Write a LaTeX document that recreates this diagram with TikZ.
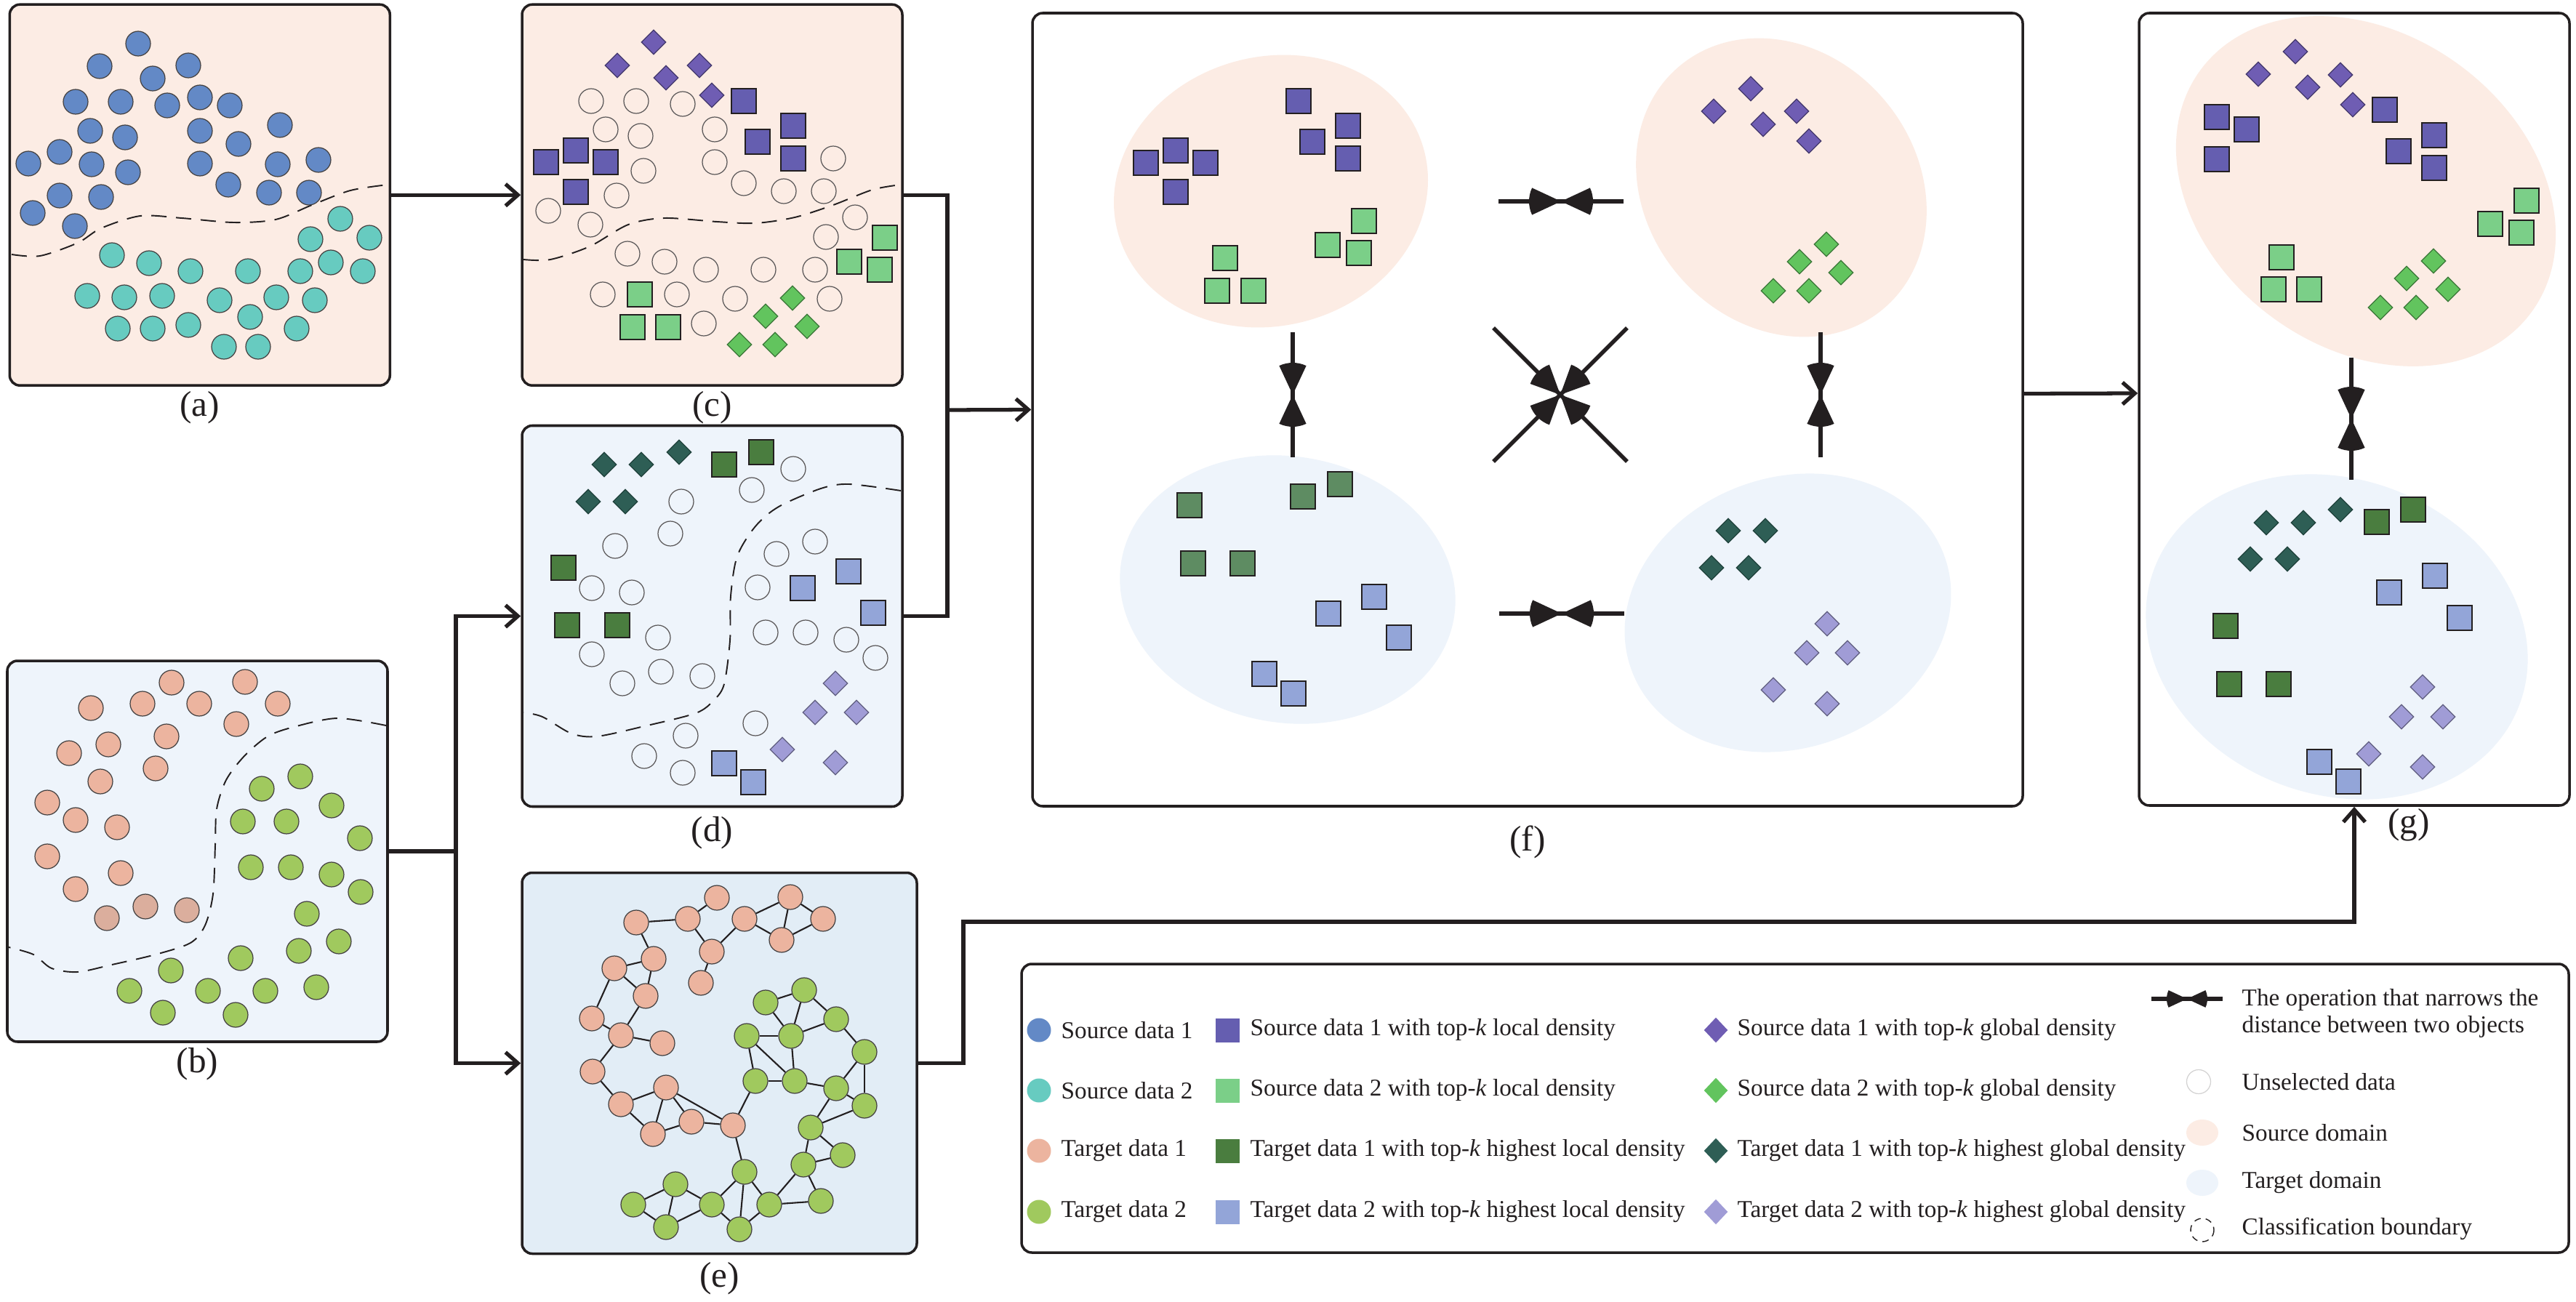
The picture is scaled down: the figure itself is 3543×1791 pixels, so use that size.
\documentclass[tikz,border=0pt]{standalone}
\usepackage{fontspec}
\setmainfont{Liberation Serif}
\usetikzlibrary{arrows.meta,shapes.geometric,positioning}

\definecolor{ink}{RGB}{35,31,32}
\definecolor{srcbg}{RGB}{252,236,228}
\definecolor{tgtbg}{RGB}{238,244,251}
\definecolor{graphbg}{RGB}{226,237,246}
\definecolor{srcA}{RGB}{99,137,198}
\definecolor{srcB}{RGB}{103,203,192}
\definecolor{tgtA}{RGB}{236,180,159}
\definecolor{tgtAd}{RGB}{219,174,157}
\definecolor{tgtB}{RGB}{160,201,94}
\definecolor{locA}{RGB}{101,94,176}
\definecolor{locB}{RGB}{123,207,136}
\definecolor{gloA}{RGB}{111,93,179}
\definecolor{gloB}{RGB}{98,196,94}
\definecolor{tlocA}{RGB}{74,125,63}
\definecolor{tlocAf}{RGB}{94,140,98}
\definecolor{tlocB}{RGB}{147,165,216}
\definecolor{tgloA}{RGB}{46,94,85}
\definecolor{tgloB}{RGB}{160,156,214}

\tikzset{
  panel/.style={draw=ink, line width=1pt, rounded corners=1.4mm, inner sep=0pt, minimum width=52.3mm, minimum height=52.4mm},
  dot/.style={circle, draw=ink!85, line width=0.35pt, minimum size=3.4mm, inner sep=0pt},
  unsel/.style={dot, draw=ink!75},
  sq/.style={rectangle, draw=ink, line width=0.45pt, minimum size=3.4mm, inner sep=0pt},
  gem/.style={diamond, line width=0.35pt, minimum width=3.4mm, minimum height=3.4mm, inner sep=0pt},
  sA/.style={dot, fill=srcA}, sB/.style={dot, fill=srcB},
  tA/.style={dot, fill=tgtA}, tAd/.style={dot, fill=tgtAd}, tB/.style={dot, fill=tgtB},
  lA/.style={sq, fill=locA}, lB/.style={sq, fill=locB},
  tlA/.style={sq, fill=tlocA}, tlB/.style={sq, fill=tlocB},
  gA/.style={gem, fill=gloA, draw=gloA!60!black}, gB/.style={gem, fill=gloB, draw=gloB!60!black},
  tgA/.style={gem, fill=tgloA, draw=tgloA!70!black}, tgB/.style={gem, fill=tgloB, draw=tgloB!60!black},
  bnd/.style={draw=ink, line width=0.55pt, dash pattern=on 2.1mm off 1.3mm},
  conn/.style={draw=ink, line width=1.5pt},
  arr/.style={conn, -{Straight Barb[length=1.7mm, width=3mm]}},
  narline/.style={draw=ink, line width=1.6pt},
  link/.style={draw=ink, line width=0.6pt},
  lab/.style={font=\fontsize{14}{16}\selectfont, inner sep=0pt, text=ink},
  leg/.style={font=\fontsize{9.45}{10.8}\selectfont, inner sep=0pt, anchor=west, text=ink, align=left},
}

% line with a fan-shaped head pointing at the centre
\newcommand{\narrowop}[4]{%
  \draw[narline] (#1) -- ++(#2:#3);
  \fill[ink] (#1) -- ++(#2-25:#4) arc[start angle=#2-25, end angle=#2+25, radius=#4] -- cycle;}

\begin{document}
\begin{tikzpicture}[x=0.1mm, y=-0.1mm]
\useasboundingbox (0,0) rectangle (3543,1791);

% panels
\node[panel, fill=srcbg] (pa) at (274.8,268.2) {};
\node[panel, fill=srcbg] (pc) at (979.5,268.2) {};
\node[panel, fill=tgtbg] (pb) at (271.5,1171) {};
\node[panel, fill=tgtbg] (pd) at (979.5,847.5) {};
\node[panel, fill=graphbg, minimum width=54.3mm] (pe) at (989.5,1462.5) {};
\node[panel, fill=white, minimum width=136.2mm, minimum height=109.1mm] (pf) at (2101,563.5) {};
\node[panel, fill=white, minimum width=59.2mm, minimum height=109mm] (pg) at (3238,563) {};
\node[panel, fill=white, minimum width=212.8mm, minimum height=39.7mm] (pl) at (2469,1524.5) {};

\node[lab, below=0.6mm of pa] (la) {(a)};
\node[lab, below=0.6mm of pb] (lb) {(b)};
\node[lab, below=0.6mm of pc] (lc) {(c)};
\node[lab, below=1.1mm of pd] (ld) {(d)};
\node[lab, below=0.9mm of pe] (le) {(e)};
\node[lab, below=2.4mm of pf] (lf) {(f)};
\node[lab, anchor=north] (lg) at (3313,1112) {(g)};

% (a) source data
\draw[bnd] plot[smooth] coordinates {(16,350) (55,352) (107,334) (139,314) (193,297) (250,300) (321,306) (379,302) (429,282) (482,262) (534,254)};
\foreach \x/\y [count=\i] in {190/60,137/91,259/90,210/108,104/140,166/140,230/145,275/134,316/145,124/180,172/189,275/180,328/198,385/172,82/209,39/225,126/226,176/237,275/225,382/226,438/220,314/254,82/269,139/271,370/265,425/265,45/293,103/311}
  \node[sA] (aS\i) at (\x,\y) {};
\foreach \x/\y [count=\i] in {468/301,427/329,508/327,154/351,205/362,262/373,341/373,413/373,455/361,499/373,120/407,171/409,223/407,302/413,380/409,433/413,344/436,162/452,210/452,259/447,408/452,308/477,355/477}
  \node[sB] (aT\i) at (\x,\y) {};

% (c) source data with top-k density
\draw[bnd] plot[smooth] coordinates {(720,357) (757,357) (811,339) (864,309) (914,300) (986,305) (1039,307) (1093,299) (1146,282) (1200,261) (1239,254)};
\foreach \x/\y [count=\i] in {813/139,875/139,939/143,833/178,881/187,983/178,885/235,983/223,1023/252,1078/263,1133/263,1146/218,848/269,754/290,812/309,1176/299,1136/326,863/349,914/360,971/371,1050/371,1121/371,829/405,931/405,1011/411,1141/411,968/445}
  \node[unsel] (cU\i) at (\x,\y) {};
\foreach \x/\y [count=\i] in {899/58,849/90,916/107,962/90,979/131}
  \node[gA] (cG\i) at (\x,\y) {};
\foreach \x/\y [count=\i] in {1023/139,1091/173,1042/195,1091/218,792/207,751/223,833/223,792/264}
  \node[lA] (cL\i) at (\x,\y) {};
\foreach \x/\y [count=\i] in {1217/327,1168/360,1210/371,880/405,870/450,919/450}
  \node[lB] (cM\i) at (\x,\y) {};
\foreach \x/\y [count=\i] in {1090/410,1053/435,1110/449,1017/474,1066/474}
  \node[gB] (cH\i) at (\x,\y) {};

% (b) target data
\draw[bnd] plot[smooth] coordinates {(531,998) (464,988) (404,1000) (368,1013) (336,1040) (311,1073) (298,1113) (296,1163) (293,1230) (282,1273) (262,1297) (214,1313) (154,1327) (107,1337) (71,1332) (46,1313) (12,1303)};
\foreach \x/\y [count=\i] in {236/939,337/938,125/974,196/968,274/968,382/968,325/996,149/1024,229/1013,95/1036,214/1057,138/1075,65/1104,104/1128,161/1138,65/1178,166/1201,104/1223}
  \node[tA] (bS\i) at (\x,\y) {};
\foreach \x/\y [count=\i] in {147/1263,200/1247,257/1252}
  \node[tAd] (bD\i) at (\x,\y) {};
\foreach \x/\y [count=\i] in {413/1068,360/1085,456/1108,334/1130,394/1130,495/1153,345/1193,400/1193,456/1203,496/1227,422/1257,466/1295,411/1308,331/1318,235/1335,178/1363,286/1363,365/1363,435/1358,224/1393,324/1396}
  \node[tB] (bT\i) at (\x,\y) {};

% (d) target data with top-k density
\draw[bnd] plot[smooth] coordinates {(1239,675) (1168,666) (1129,672) (1071,697) (1039,724) (1014,765) (1005,820) (1004,881) (996,941) (982,963) (957,981) (886,999) (821,1013) (786,1009) (746,986) (720,980)};
\foreach \x/\y [count=\i] in {1091/645,1034/674,937/690,922/734,846/751,814/809,869/815,905/877,814/900,909/924,856/940,966/930,1121/745,1068/762,1042/808,1053/870,1108/870,1164/880,1204/905,1039/995,943/1012,886/1040,939/1063}
  \node[unsel] (dU\i) at (\x,\y) {};
\foreach \x/\y [count=\i] in {831/639,882/639,934/622,809/690,860/690}
  \node[tgA] (dG\i) at (\x,\y) {};
\foreach \x/\y [count=\i] in {996/639,1047/622,775/781,780/860,849/860}
  \node[tlA] (dL\i) at (\x,\y) {};
\foreach \x/\y [count=\i] in {1167/786,1104/809,1201/843,996/1050,1036/1076}
  \node[tlB] (dM\i) at (\x,\y) {};
\foreach \x/\y [count=\i] in {1149/940,1121/980,1178/980,1076/1031,1149/1049}
  \node[tgB] (dH\i) at (\x,\y) {};

% (e) graph of target data
\foreach \n/\x/\y in {ea1/875/1269,ea2/946/1264,ea3/986/1235,ea4/1024/1264,ea5/1087/1234,ea6/1132/1264,ea7/1075/1293,ea8/979/1309,ea9/964/1352,ea10/899/1319,ea11/845/1332,ea12/888/1370,ea13/814/1401,ea14/854/1424,ea15/911/1435,ea16/815/1474,ea17/854/1519,ea18/916/1496,ea19/898/1560,ea20/951/1543,ea21/1008/1548}
  \node[tA] (\n) at (\x,\y) {};
\foreach \n/\x/\y in {eb1/1053/1379,eb2/1106/1362,eb3/1150/1402,eb4/1027/1425,eb5/1088/1425,eb6/1189/1447,eb7/1039/1487,eb8/1093/1487,eb9/1150/1497,eb10/1189/1521,eb11/1115/1551,eb12/1159/1589,eb13/1105/1602,eb14/1024/1612,eb15/929/1629,eb16/871/1657,eb17/916/1688,eb18/979/1657,eb19/1017/1691,eb20/1058/1657,eb21/1129/1652}
  \node[tB] (\n) at (\x,\y) {};
\foreach \u/\v in {ea1/ea2,ea2/ea3,ea2/ea8,ea8/ea4,ea4/ea5,ea4/ea7,ea5/ea7,ea5/ea6,ea6/ea7,ea8/ea9,ea1/ea10,ea10/ea11,ea10/ea12,ea11/ea12,ea11/ea13,ea13/ea14,ea12/ea14,ea14/ea15,ea14/ea16,ea16/ea17,ea17/ea18,ea17/ea19,ea18/ea19,ea18/ea20,ea19/ea20,ea18/ea21,ea20/ea21,ea21/eb7,ea21/eb14}
  \draw[link] (\u) -- (\v);
\foreach \u/\v in {eb1/eb2,eb1/eb5,eb2/eb5,eb2/eb3,eb3/eb5,eb3/eb6,eb4/eb5,eb4/eb7,eb4/eb8,eb5/eb8,eb7/eb8,eb8/eb9,eb9/eb6,eb6/eb10,eb9/eb10,eb9/eb11,eb10/eb11,eb11/eb12,eb11/eb13,eb12/eb13,eb13/eb20,eb13/eb21,eb20/eb21,eb14/eb20,eb14/eb19,eb14/eb18,eb18/eb15,eb15/eb16,eb15/eb17,eb16/eb17,eb17/eb18,eb18/eb19,eb19/eb20}
  \draw[link] (\u) -- (\v);

% (f) domains brought together
\fill[srcbg, rotate around={15:(1748,263)}] (1748,263) ellipse [x radius=218, y radius=185];
\fill[srcbg, rotate around={-50:(2450,258)}] (2450,258) ellipse [x radius=218, y radius=186];
\fill[tgtbg, rotate around={-10:(1771,811)}] (1771,811) ellipse [x radius=232, y radius=183];
\fill[tgtbg, rotate around={20:(2459,843)}] (2459,843) ellipse [x radius=229, y radius=186];
\foreach \x/\y [count=\i] in {1576/224,1617/207,1658/224,1617/264,1786/139,1854/173,1805/195,1854/218}
  \node[lA] (fL\i) at (\x,\y) {};
\foreach \x/\y [count=\i] in {1876/304,1826/337,1869/348,1685/355,1674/400,1724/400}
  \node[lB] (fM\i) at (\x,\y) {};
\foreach \x/\y [count=\i] in {2408/122,2357/153,2425/171,2471/153,2488/194}
  \node[gA] (fG\i) at (\x,\y) {};
\foreach \x/\y [count=\i] in {2512/336,2475/360,2532/375,2439/400,2488/400}
  \node[gB] (fH\i) at (\x,\y) {};
\foreach \x/\y [count=\i] in {1636/695,1792/683,1843/666,1641/775,1709/775}
  \node[tlA, fill=tlocAf] (fP\i) at (\x,\y) {};
\foreach \x/\y [count=\i] in {1890/821,1827/844,1924/877,1739/927,1779/954}
  \node[tlB] (fQ\i) at (\x,\y) {};
\foreach \x/\y [count=\i] in {2377/730,2428/730,2354/781,2405/781}
  \node[tgA] (fR\i) at (\x,\y) {};
\foreach \x/\y [count=\i] in {2513/858,2485/898,2541/898,2439/949,2513/968}
  \node[tgB] (fS\i) at (\x,\y) {};

\coordinate (nTop) at (2147,277);
\coordinate (nBot) at (2148,844);
\coordinate (nLeft) at (1778,543);
\coordinate (nRight) at (2504,543);
\coordinate (nMid) at (2146,543);
\foreach \c in {nTop,nBot}{\narrowop{\c}{180}{86}{44}\narrowop{\c}{0}{86}{44}}
\foreach \c in {nLeft,nRight}{\narrowop{\c}{270}{86}{44}\narrowop{\c}{90}{86}{44}}
\foreach \a in {45,135,225,315}{\narrowop{nMid}{\a}{130}{44}}

% (g) result
\fill[srcbg, rotate around={-36:(3254,263)}] (3254,263) ellipse [x radius=282, y radius=216];
\fill[tgtbg, rotate around={-20:(3214,876)}] (3214,876) ellipse [x radius=268, y radius=217];
\foreach \x/\y [count=\i] in {3157/71,3106/102,3174/120,3219/103,3236/144}
  \node[gA] (gG\i) at (\x,\y) {};
\foreach \x/\y [count=\i] in {3049/161,3090/178,3049/219,3280/151,3299/208,3348/186,3348/231}
  \node[lA] (gL\i) at (\x,\y) {};
\foreach \x/\y [count=\i] in {3475/276,3425/308,3468/320,3138/354,3127/398,3176/398}
  \node[lB] (gM\i) at (\x,\y) {};
\foreach \x/\y [count=\i] in {3347/359,3310/383,3367/398,3274/423,3323/423}
  \node[gB] (gH\i) at (\x,\y) {};
\foreach \x/\y [count=\i] in {3219/701,3117/719,3168/719,3095/769,3146/769}
  \node[tgA] (gR\i) at (\x,\y) {};
\foreach \x/\y [count=\i] in {3269/718,3319/701,3061/861,3066/941,3134/941}
  \node[tlA] (gP\i) at (\x,\y) {};
\foreach \x/\y [count=\i] in {3286/815,3349/792,3383/850,3190/1048,3230/1075}
  \node[tlB] (gQ\i) at (\x,\y) {};
\foreach \x/\y [count=\i] in {3332/945,3303/986,3360/986,3258/1037,3332/1055}
  \node[tgB] (gS\i) at (\x,\y) {};
\coordinate (nG) at (3234,576);
\narrowop{nG}{270}{84}{44}\narrowop{nG}{90}{84}{44}

% connectors
\draw[arr] (pa) -- (pc);
\coordinate (jc) at (1303,564);
\draw[conn] (pc.east) -| (jc) |- (pd.east);
\draw[arr] (jc) -- (pf.west);
\coordinate (jb) at (627,1171);
\draw[conn] (pb.east) -- (jb);
\draw[arr] (jb) |- (pd.west);
\draw[arr] (jb) |- (pe.west);
\coordinate (je) at (1325,1268);
\draw[arr] (pe.east) -| (je) -| (pg.south);
\draw[arr] ([yshift=2.2mm]pf.east) -- ([yshift=2.2mm]pg.west);

% legend
\foreach \s/\t/\y [count=\i] in {sA/Source data 1/1417,sB/Source data 2/1500,tA/Target data 1/1583,tB/Target data 2/1667}{
  \node[\s, draw=none, minimum size=3.3mm] (kA\i) at (1429,\y) {};
  \node[leg] (tA\i) at (1459,\y) {\t};}
\foreach \s/\t/\y [count=\i] in {lA/Source data 1 with top-\textit{k} local density/1417,lB/Source data 2 with top-\textit{k} local density/1500,tlA/Target data 1 with top-\textit{k} highest local density/1583,tlB/Target data 2 with top-\textit{k} highest local density/1667}{
  \node[\s, draw=none, minimum size=3.3mm] (kB\i) at (1688,\y) {};
  \node[leg] (tB\i) at (1719,\y) {\t};}
\foreach \s/\t/\y [count=\i] in {gA/Source data 1 with top-\textit{k} global density/1417,gB/Source data 2 with top-\textit{k} global density/1500,tgA/Target data 1 with top-\textit{k} highest global density/1583,tgB/Target data 2 with top-\textit{k} highest global density/1667}{
  \node[\s, draw=none, minimum width=3.3mm, minimum height=3.5mm] (kC\i) at (2360,\y) {};
  \node[leg] (tC\i) at (2389,\y) {\t};}
\coordinate (kOp) at (3008,1374);
\narrowop{kOp}{180}{49}{28}\narrowop{kOp}{0}{49}{28}
\node[leg] (tOp) at (3083,1394) {The operation that narrows the\\distance between two objects};
\node[unsel, fill=white, draw=ink!20, minimum size=3.3mm] (kUn) at (3024,1488) {};
\node[leg] (tUn) at (3083,1488) {Unselected data};
\fill[srcbg] (3029,1558) ellipse [x radius=22, y radius=18];
\node[leg] (tSd) at (3083,1558) {Source domain};
\fill[tgtbg] (3029,1627) ellipse [x radius=22, y radius=18];
\node[leg] (tTd) at (3083,1627) {Target domain};
\draw[bnd, line width=0.4pt, dash pattern=on 0.9mm off 0.7mm] (3029,1692) circle [radius=16];
\node[leg] (tCb) at (3083,1690) {Classification boundary};
\end{tikzpicture}
\end{document}
